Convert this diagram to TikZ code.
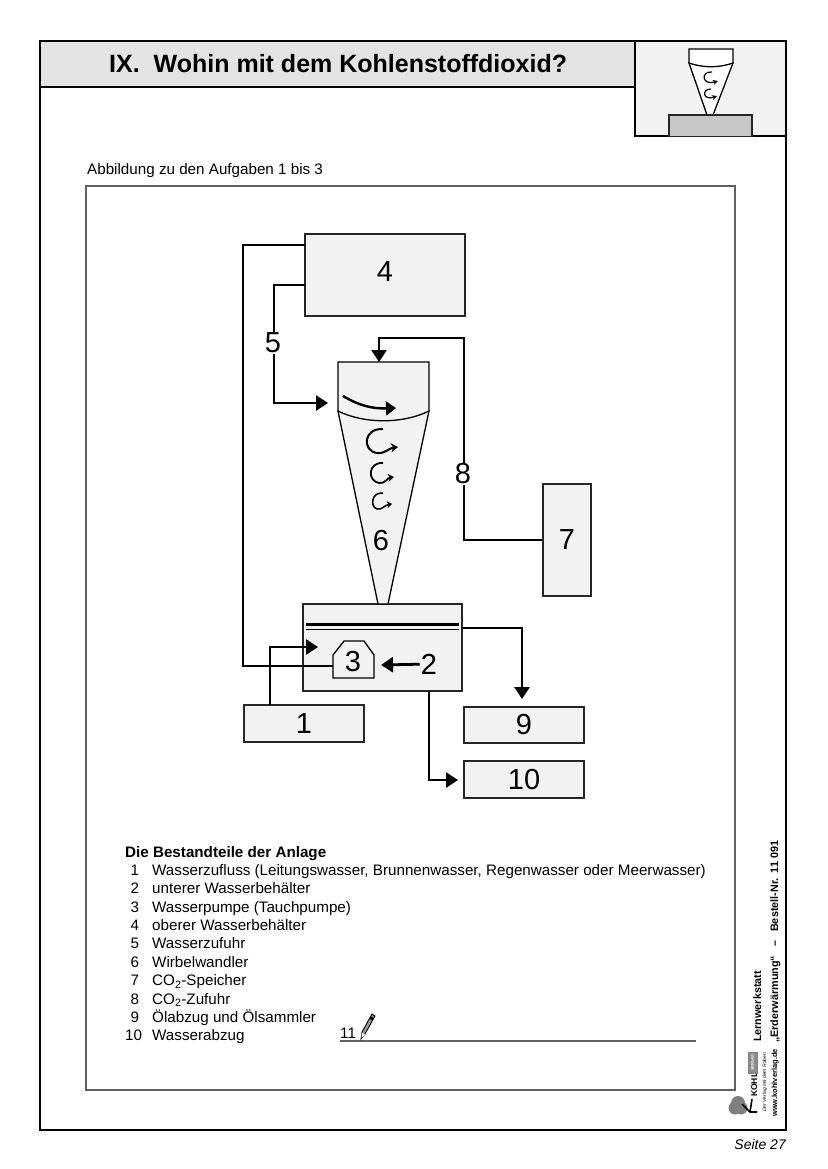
\documentclass[tikz,border=0pt]{standalone}
\usepackage{fontspec}
\setmainfont{Liberation Sans}
\usetikzlibrary{arrows.meta,positioning}
\definecolor{boxgray}{gray}{0.95}
\definecolor{headgray}{gray}{0.89}
\definecolor{linegray}{gray}{0.38}
\tikzset{
  blk/.style={draw=black!85, rectangle, fill=boxgray, line width=1.3pt, inner sep=0pt, align=center, font=\fontsize{29}{29}\selectfont},
  lbl/.style={inner sep=1pt, font=\fontsize{29}{29}\selectfont},
  wire/.style={line width=2.8pt, black},
  arr/.style={-{Triangle[length=12pt, width=15pt]}, line width=2.8pt, black},
  swirl/.style={-{Stealth[length=7pt, width=9pt]}, line width=2pt, black},
  txt/.style={inner sep=0pt, anchor=base west, font=\fontsize{15.2}{18.35}\selectfont},
  side/.style={inner sep=0pt, anchor=base west, rotate=90, font=\fontsize{10.8}{11}\selectfont\bfseries},
}

\begin{document}
\begin{tikzpicture}[x=1pt, y=-1pt]
\useasboundingbox (0,0) rectangle (827,1169);
\fill[white] (0,0) rectangle (827,1169);

% page frame and heading
\draw[line width=2pt] (40,41) rectangle (786,1130);
\node[draw, line width=2pt, fill=headgray, outer sep=0pt, minimum width=595pt, minimum height=46pt, inner sep=0pt, anchor=north west] (head) at (40,41) {};
\node[font=\fontsize{25}{26}\selectfont\bfseries, inner sep=0pt, anchor=base west] (title) at (109,73) {IX.\ \ Wohin mit dem Kohlenstoffdioxid?};
\node[draw, line width=2pt, fill=boxgray, outer sep=0pt, minimum width=151pt, minimum height=95.5pt, inner sep=0pt, anchor=north west] (icon) at (635,41) {};

% small picture in the corner
\draw[line width=1.3pt, fill=white] (689,63) -- (707,115) -- (713,115) -- (733,63) -- cycle;
\draw[line width=1.3pt, fill=white] (689,63) -- (689,49) -- (733,49) -- (733,63) .. controls (719,68) and (703,68) .. (689,63) -- cycle;
\draw[-{Stealth[length=5pt, width=5pt]}, line width=1.2pt] (712,72) .. controls (700,71) and (702,86) .. (718,81);
\draw[-{Stealth[length=5pt, width=5pt]}, line width=1.2pt] (711,89) .. controls (701,89) and (703,101) .. (717,96);
\node[draw=black!85, line width=1.3pt, fill=black!22, outer sep=0pt, minimum width=83pt, minimum height=21.5pt, inner sep=0pt, anchor=north west] (iconbase) at (669,115) {};

\node[txt] (caption) at (87,174.5) {Abbildung zu den Aufgaben 1 bis 3};
\node[draw=linegray, line width=1.5pt, outer sep=0pt, minimum width=649pt, minimum height=904pt, inner sep=0pt, anchor=north west] (sheet) at (86,186) {};

% boxes
\node[blk, minimum width=160pt, minimum height=82pt] (speicher) at (385,275) {};
\node[lbl] at (385,272) {4};
\node[blk, minimum width=48pt, minimum height=112pt] (co2) at (567,540) {7};
\node[blk, minimum width=159pt, minimum height=87pt] (tank) at (382.5,647.5) {};
\node[blk, minimum width=120pt, minimum height=37pt] (zufluss) at (304,723.5) {1};
\node[blk, minimum width=120pt, minimum height=36pt] (oel) at (524,725) {9};
\node[blk, minimum width=120pt, minimum height=37pt] (abzug) at (524,779.5) {10};

% whirl converter
\draw[line width=1.3pt, fill=boxgray] (338,411) -- (378,604) -- (388,604) -- (429,411) -- cycle;
\draw[line width=1.3pt, fill=boxgray] (338,411) -- (338,362) -- (429,362) -- (429,411) .. controls (403,424) and (364,424) .. (338,411) -- cycle;
\coordinate (wtop) at (379,362);
\coordinate (winlet) at (328,403);
\node[lbl] (six) at (381,541) {6};
\draw[-{Triangle[length=10pt, width=14pt]}, line width=2.4pt] (343,396) .. controls (358,405) and (372,409) .. (396,408);
\draw[swirl] (383,429) .. controls (363,428) and (362,451) .. (377,453) .. controls (385,454) and (389,448) .. (398,447);
\draw[swirl, line width=1.8pt, -{Stealth[length=6pt, width=8pt]}] (383,463) .. controls (368,462) and (367,481) .. (379,483) .. controls (385,484) and (387,478) .. (394,477);
\draw[swirl, line width=1.5pt, -{Stealth[length=5pt, width=7pt]}] (383,493) .. controls (371,492) and (370,507) .. (377,509) .. controls (382,510) and (385,505) .. (392,504);

% tank inside
\draw[line width=2.6pt] (306,624.5) -- (459,624.5);
\draw[line width=1.8pt] (306,629.5) -- (459,629.5);
\draw[line width=1.3pt, fill=boxgray] (333,678) -- (333,655) -- (344,641) -- (364,641) -- (374,655) -- (374,678) -- cycle;
\coordinate (pump) at (333,666);
\node[lbl] (three) at (353,662) {3};
\node[lbl] (two) at (429,664) {2};
\coordinate (pumpright) at (381,665);
\coordinate (tankin) at (318,647);
\coordinate (tankout) at (462,628);
\coordinate (tankdown) at (429,691);
\coordinate (oelin) at (522,699);
\coordinate (abzugin) at (458,780);

% connectors
\draw[wire] (305,245) -- (243,245) -- (243,666) -- (pump);
\draw[arr] (305,285) -- (274,285) -- (274,403) -- (winlet);
\draw[arr] (co2.west) -- (464,540) -- (464,338) -- (379,338) -- (wtop);
\draw[arr] (270,705) -- (270,647) -- (tankin);
\draw[arr] (two) -- (pumpright);
\draw[arr] (tankout) -- (522,628) -- (oelin);
\draw[arr] (tankdown) -- (429,780) -- (abzugin);
\node[lbl, fill=white] (five) at (273,343) {5};
\node[lbl, fill=white] (eight) at (463,474) {8};

% parts list
\node[txt, font=\fontsize{15.2}{18.35}\selectfont\bfseries] (listhead) at (125,857) {Die Bestandteile der Anlage};
\node[txt, anchor=north west] (parts) at (125,862.5) {%
  \begin{tabular}{@{}p{14pt}@{\hspace{13pt}}l@{}}
  \raggedleft 1 & Wasserzufluss (Leitungswasser, Brunnenwasser, Regenwasser oder Meerwasser)\\
  \raggedleft 2 & unterer Wasserbehälter\\
  \raggedleft 3 & Wasserpumpe (Tauchpumpe)\\
  \raggedleft 4 & oberer Wasserbehälter\\
  \raggedleft 5 & Wasserzufuhr\\
  \raggedleft 6 & Wirbelwandler\\
  \raggedleft 7 & CO\textsubscript{2}-Speicher\\
  \raggedleft 8 & CO\textsubscript{2}-Zufuhr\\
  \raggedleft 9 & Ölabzug und Ölsammler\\
  \raggedleft 10 & Wasserabzug
  \end{tabular}};
\node[txt] (eleven) at (340,1038) {11};
\draw[line width=1.6pt, linegray] (340,1041) -- (696,1041);

% pencil
\draw[line width=.9pt, fill=black!40] (361,1039) -- (362,1032) -- (372,1014) -- (375,1016) -- (365,1034) -- cycle;
\fill (371,1016.5) -- (374,1018) -- (372.6,1020.4) -- (369.6,1018.9) -- cycle;
\fill[white] (361.8,1033) -- (365,1034.5) -- (361.5,1038) -- cycle;

% publisher strip
\node[side] (werk) at (761,1042) {Lernwerkstatt};
\node[side] (bestell) at (778,1043) {„Erderwärmung“\hspace{9pt}–\hspace{9pt}Bestell-Nr.\hspace{5pt}11 091};
\node[side, font=\fontsize{7.5}{8}\selectfont\bfseries] (web) at (777,1117) {www.kohlverlag.de};
\node[side, font=\fontsize{8.5}{9}\selectfont\bfseries] (kohl) at (757,1097) {KOHL};
\node[draw=black!50, fill=black!45, text=white, rotate=90, outer sep=0pt, inner sep=0pt, minimum width=21pt, minimum height=9pt, font=\fontsize{4}{4}\selectfont\bfseries, anchor=west] (verlag) at (752.5,1073) {VERLAG};
\node[side, font=\fontsize{5}{5}\selectfont\itshape] (motto) at (766,1112) {Der Verlag mit dem Raben};
\fill[black!50] (738,1103) circle (7pt) (735,1108) circle (6.5pt) (741,1108) circle (6.5pt);
\draw[line width=1.6pt] (742,1104) -- (750,1112) -- (757,1112) (750,1112) -- (752,1099);

\node[inner sep=0pt, anchor=base east, font=\fontsize{14}{14}\selectfont\itshape] (seite) at (786,1149) {Seite 27};
\end{tikzpicture}
\end{document}
